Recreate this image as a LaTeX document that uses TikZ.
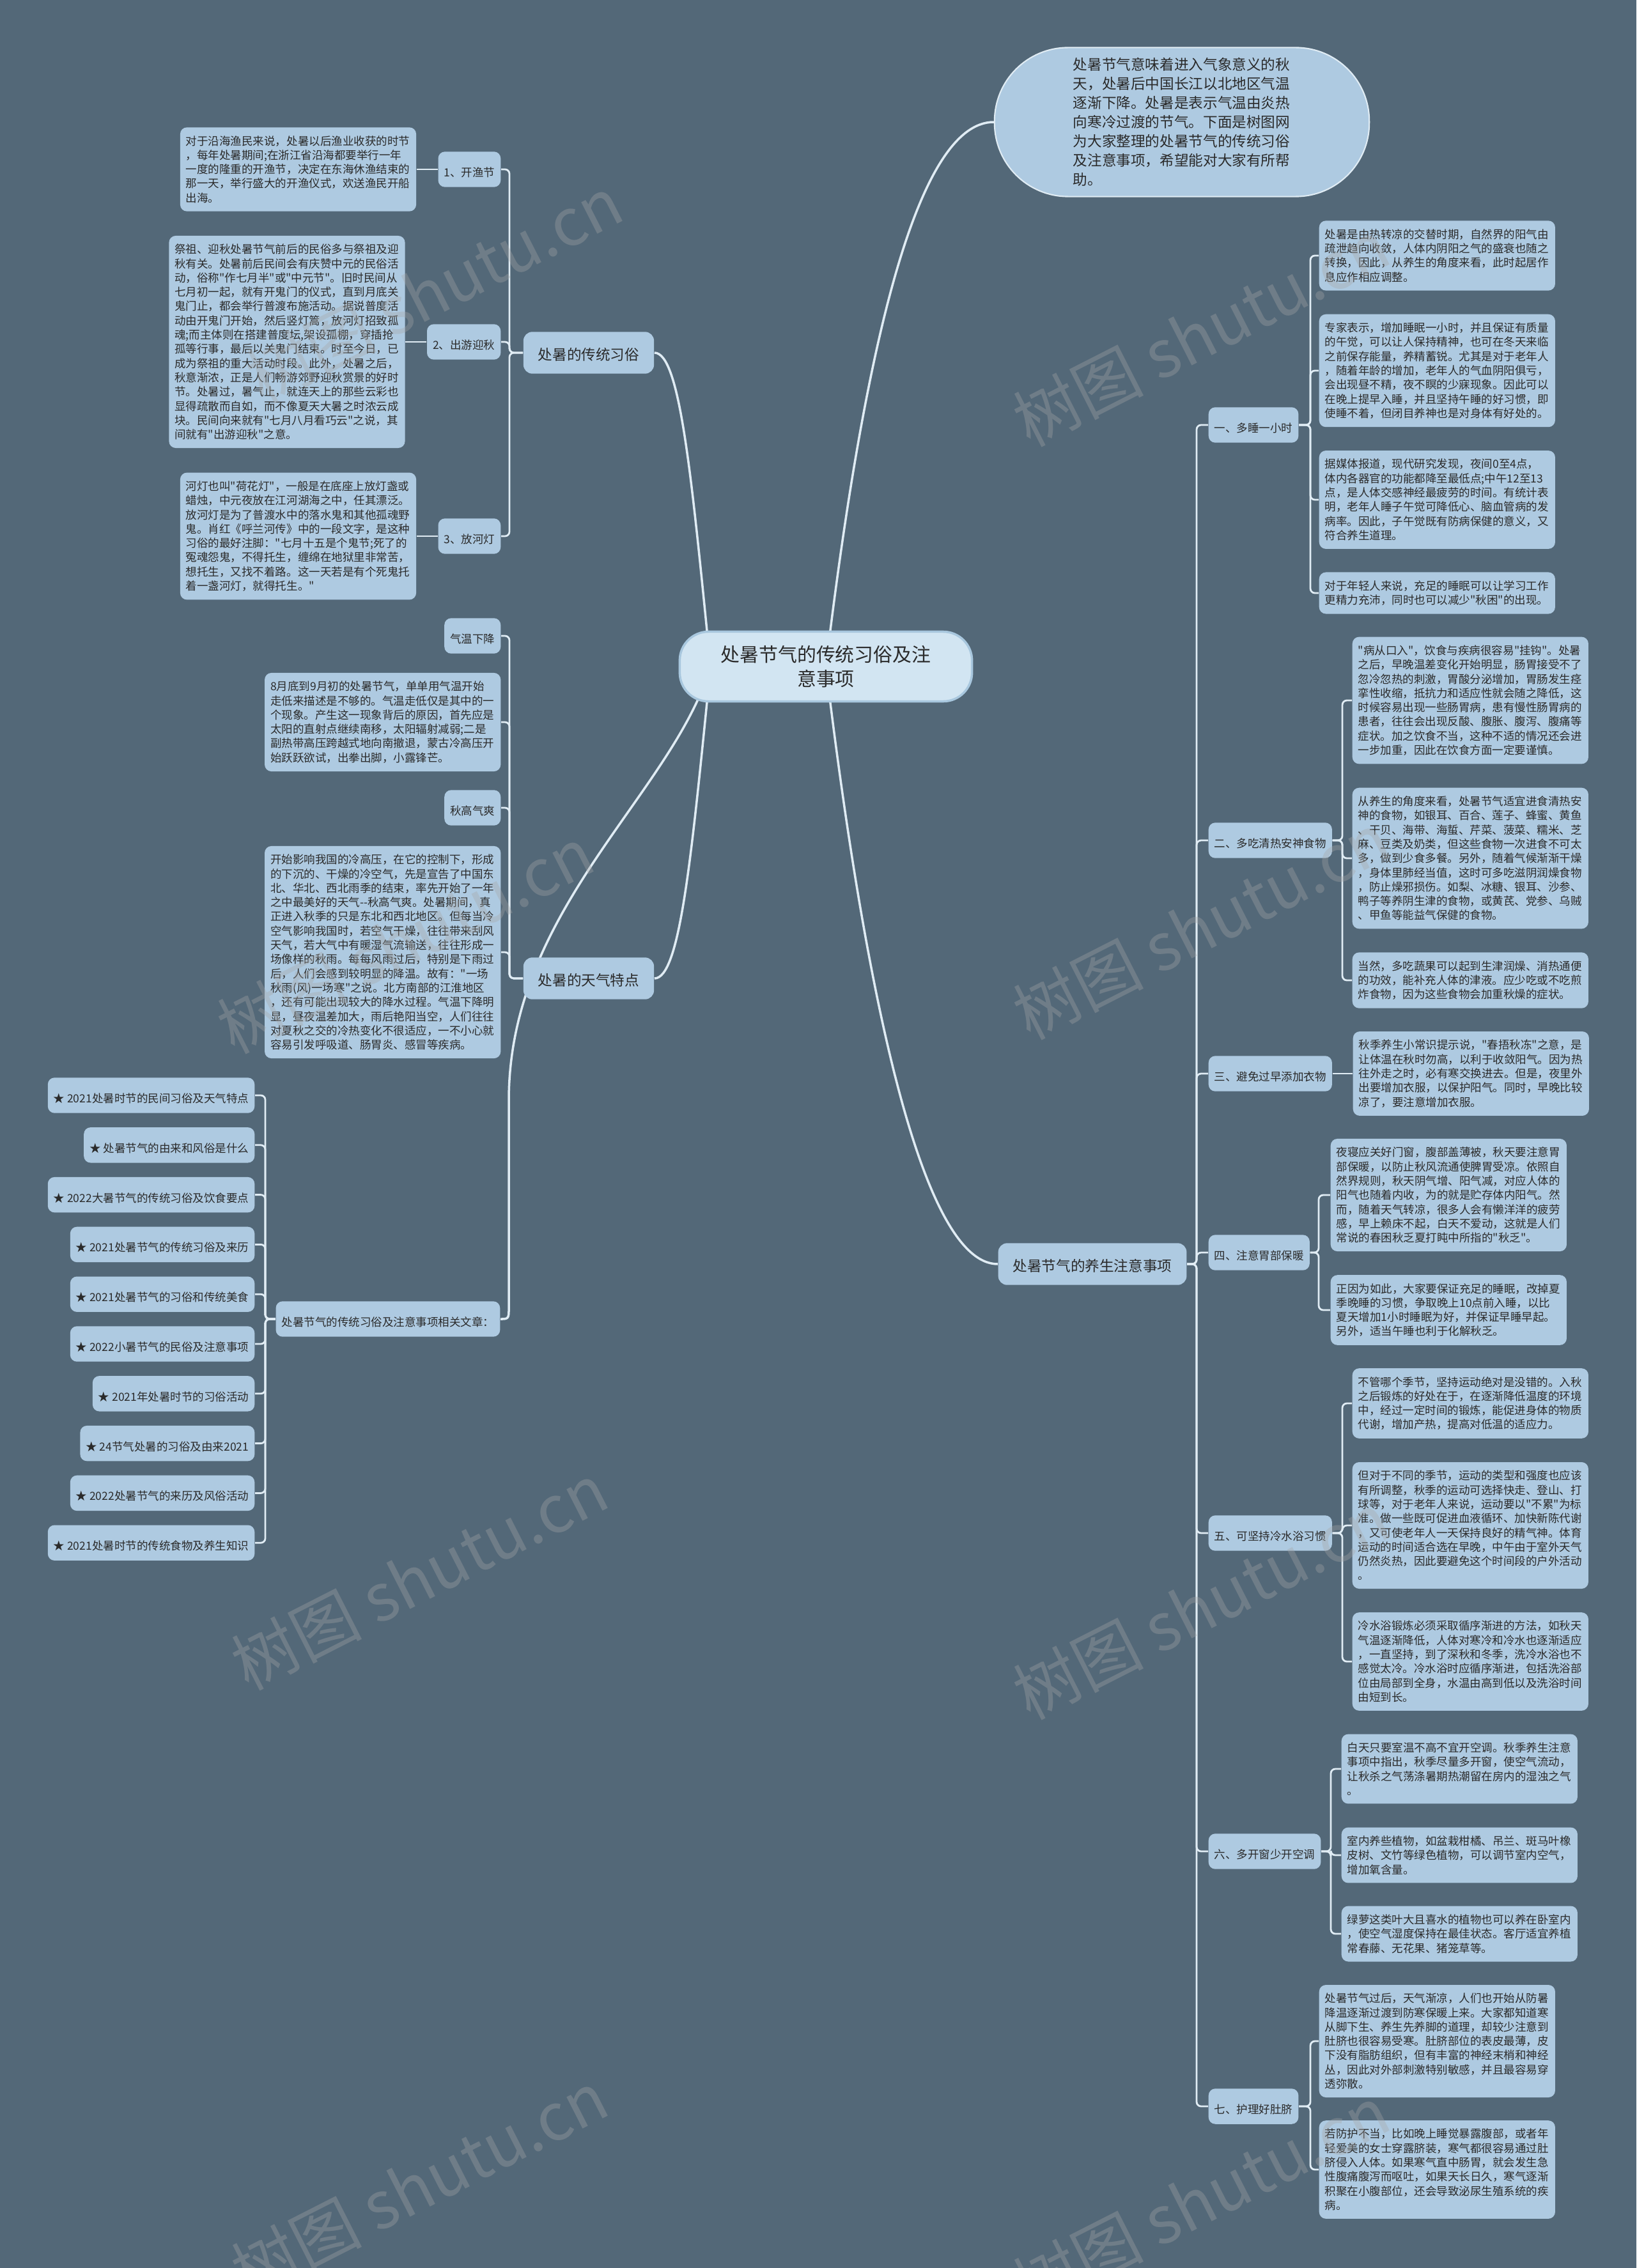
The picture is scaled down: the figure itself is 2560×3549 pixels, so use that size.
\documentclass[tikz,border=0pt]{standalone}
\usepackage{fontspec}
\newfontfamily\cjk{Noto Sans CJK SC}
\usetikzlibrary{positioning,calc}
\definecolor{slate}{HTML}{536878}
\definecolor{boxblue}{HTML}{AECAE1}
\definecolor{rootblue}{HTML}{D2E5F2}
\definecolor{rootedge}{HTML}{A8C7DE}
\definecolor{wire}{HTML}{E0ECF4}
\definecolor{ink}{HTML}{2A2A2A}
\pgfdeclarelayer{canvas}
\pgfdeclarelayer{wires}
\pgfsetlayers{canvas,wires,main}

\tikzset{
  leaf/.style={fill=boxblue, text=ink, rounded corners=3pt, inner xsep=0.09cm, inner ysep=0.11cm, font=\cjk\fontsize{4.98}{6.34}\selectfont},
  tag/.style={leaf, text height=0.8em, text depth=0.15em},
  note/.style={leaf, inner ysep=0.13cm, text width=3.51cm, align=left},
  topic/.style={fill=boxblue, text=ink, rounded corners=4pt, inner xsep=0.23cm, inner ysep=0.16cm, text height=0.8em, text depth=0.15em, font=\cjk\fontsize{6.43}{8}\selectfont},
  link/.style={draw=wire, line width=0.8pt},
  bracket/.style={link, rounded corners=2pt},
  trunk/.style={draw=wire, line width=1pt},
  stamp/.style={text=gray!70, opacity=0.35, rotate=27, font=\cjk\fontsize{29}{30}\selectfont},
}

\begin{document}
\begin{tikzpicture}[x=0.01cm, y=-0.01cm]
  \useasboundingbox (0,0) rectangle (2560,3549);
  \begin{pgfonlayer}{canvas}
    \fill[slate] (0,0) rectangle (2560,3549);
  \end{pgfonlayer}

  % centre and intro
  \node[fill=rootblue, draw=rootedge, line width=1pt, rounded corners=0.45cm, minimum width=4.57cm, minimum height=1.09cm, align=center, text=ink, font=\cjk\fontsize{8.5}{10.9}\selectfont] (root) at (1292,1043) {处暑节气的传统习俗及注\\意事项};
  \node[fill=boxblue, draw=wire, line width=0.6pt, rounded corners=1.15cm, minimum width=5.86cm, minimum height=2.33cm, text width=3.40cm, align=left, text=ink, font=\cjk\fontsize{6.43}{8.54}\selectfont] (intro) at (1849,191) {处暑节气意味着进入气象意义的秋\\天，处暑后中国长江以北地区气温\\逐渐下降。处暑是表示气温由炎热\\向寒冷过渡的节气。下面是树图网\\为大家整理的处暑节气的传统习俗\\及注意事项，希望能对大家有所帮\\助。};

  % customs
  \node[topic] (custom) at (921,552) {处暑的传统习俗};
  \node[tag, anchor=east] (kaiyu) at (784,265) {1、开渔节};
  \node[tag, anchor=east] (chuyou) at (784,535) {2、出游迎秋};
  \node[tag, anchor=east] (hedeng) at (784,839) {3、放河灯};
  \node[note, left=0.33cm of kaiyu] (kaiyuT) {对于沿海渔民来说，处暑以后渔业收获的时节\\，每年处暑期间;在浙江省沿海都要举行一年\\一度的隆重的开渔节，决定在东海休渔结束的\\那一天，举行盛大的开渔仪式，欢送渔民开船\\出海。};
  \node[note, left=0.33cm of chuyou] (chuyouT) {祭祖、迎秋处暑节气前后的民俗多与祭祖及迎\\秋有关。处暑前后民间会有庆赞中元的民俗活\\动，俗称"作七月半"或"中元节"。旧时民间从\\七月初一起，就有开鬼门的仪式，直到月底关\\鬼门止，都会举行普渡布施活动。据说普度活\\动由开鬼门开始，然后竖灯篙，放河灯招致孤\\魂;而主体则在搭建普度坛,架设孤棚，穿插抢\\孤等行事，最后以关鬼门结束。时至今日，已\\成为祭祖的重大活动时段。此外，处暑之后，\\秋意渐浓，正是人们畅游郊野迎秋赏景的好时\\节。处暑过，暑气止，就连天上的那些云彩也\\显得疏散而自如，而不像夏天大暑之时浓云成\\块。民间向来就有"七月八月看巧云"之说，其\\间就有"出游迎秋"之意。};
  \node[note, left=0.33cm of hedeng] (hedengT) {河灯也叫"荷花灯"，一般是在底座上放灯盏或\\蜡烛，中元夜放在江河湖海之中，任其漂泛。\\放河灯是为了普渡水中的落水鬼和其他孤魂野\\鬼。肖红《呼兰河传》中的一段文字，是这种\\习俗的最好注脚："七月十五是个鬼节;死了的\\冤魂怨鬼，不得托生，缠绵在地狱里非常苦，\\想托生，又找不着路。这一天若是有个死鬼托\\着一盏河灯，就得托生。"};

  % weather
  \node[topic] (weather) at (921,1531) {处暑的天气特点};
  \node[tag, anchor=east] (qiwen) at (784,995) {气温下降};
  \node[note, anchor=east] (qiwenT) at (784,1130) {8月底到9月初的处暑节气，单单用气温开始\\走低来描述是不够的。气温走低仅是其中的一\\个现象。产生这一现象背后的原因，首先应是\\太阳的直射点继续南移，太阳辐射减弱;二是\\副热带高压跨越式地向南撤退，蒙古冷高压开\\始跃跃欲试，出拳出脚，小露锋芒。};
  \node[tag, anchor=east] (qiugao) at (784,1264) {秋高气爽};
  \node[note, anchor=east] (qiugaoT) at (784,1490) {开始影响我国的冷高压，在它的控制下，形成\\的下沉的、干燥的冷空气，先是宣告了中国东\\北、华北、西北雨季的结束，率先开始了一年\\之中最美好的天气--秋高气爽。处暑期间，真\\正进入秋季的只是东北和西北地区。但每当冷\\空气影响我国时，若空气干燥，往往带来刮风\\天气，若大气中有暖湿气流输送，往往形成一\\场像样的秋雨。每每风雨过后，特别是下雨过\\后，人们会感到较明显的降温。故有："一场\\秋雨(风)一场寒"之说。北方南部的江淮地区\\，还有可能出现较大的降水过程。气温下降明\\显，昼夜温差加大，雨后艳阳当空，人们往往\\对夏秋之交的冷热变化不很适应，一不小心就\\容易引发呼吸道、肠胃炎、感冒等疾病。};

  % related articles
  \node[tag, anchor=east] (related) at (783,2064) {处暑节气的传统习俗及注意事项相关文章：};
  \foreach \txt [count=\i] in {★ 2021处暑时节的民间习俗及天气特点, ★ 处暑节气的由来和风俗是什么, ★ 2022大暑节气的传统习俗及饮食要点, ★ 2021处暑节气的传统习俗及来历, ★ 2021处暑节气的习俗和传统美食, ★ 2022小暑节气的民俗及注意事项, ★ 2021年处暑时节的习俗活动, ★ 24节气处暑的习俗及由来2021, ★ 2022处暑节气的来历及风俗活动, ★ 2021处暑时节的传统食物及养生知识}
    \node[tag, anchor=east] (art\i) at (399,{1714+77.8*(\i-1)}) {\txt};

  % health
  \node[topic] (health) at (1709,1978) {处暑节气的养生注意事项};
  \node[tag, anchor=west] (tip1) at (1890,665) {一、多睡一小时};
  \node[tag, anchor=west] (tip2) at (1890,1315) {二、多吃清热安神食物};
  \node[tag, anchor=west] (tip3) at (1890,1680) {三、避免过早添加衣物};
  \node[tag, anchor=west] (tip4) at (1890,1960) {四、注意胃部保暖};
  \node[tag, anchor=west] (tip5) at (1890,2399) {五、可坚持冷水浴习惯};
  \node[tag, anchor=west] (tip6) at (1890,2897) {六、多开窗少开空调};
  \node[tag, anchor=west] (tip7) at (1890,3296) {七、护理好肚脐};

  \node[note, anchor=west] (sleepA) at (2063,400) {处暑是由热转凉的交替时期，自然界的阳气由\\疏泄趋向收敛，人体内阴阳之气的盛衰也随之\\转换，因此，从养生的角度来看，此时起居作\\息应作相应调整。};
  \node[note, anchor=west] (sleepB) at (2063,580) {专家表示，增加睡眠一小时，并且保证有质量\\的午觉，可以让人保持精神，也可在冬天来临\\之前保存能量，养精蓄锐。尤其是对于老年人\\，随着年龄的增加，老年人的气血阴阳俱亏，\\会出现昼不精，夜不瞑的少寐现象。因此可以\\在晚上提早入睡，并且坚持午睡的好习惯，即\\使睡不着，但闭目养神也是对身体有好处的。};
  \node[note, anchor=west] (sleepC) at (2063,782) {据媒体报道，现代研究发现，夜间0至4点，\\体内各器官的功能都降至最低点;中午12至13\\点，是人体交感神经最疲劳的时间。有统计表\\明，老年人睡子午觉可降低心、脑血管病的发\\病率。因此，子午觉既有防病保健的意义，又\\符合养生道理。};
  \node[note, anchor=west] (sleepD) at (2063,928) {对于年轻人来说，充足的睡眠可以让学习工作\\更精力充沛，同时也可以减少"秋困"的出现。};

  \node[note, anchor=west] (foodA) at (2115,1096) {"病从口入"，饮食与疾病很容易"挂钩"。处暑\\之后，早晚温差变化开始明显，肠胃接受不了\\忽冷忽热的刺激，胃酸分泌增加，胃肠发生痉\\挛性收缩，抵抗力和适应性就会随之降低，这\\时候容易出现一些肠胃病，患有慢性肠胃病的\\患者，往往会出现反酸、腹胀、腹泻、腹痛等\\症状。加之饮食不当，这种不适的情况还会进\\一步加重，因此在饮食方面一定要谨慎。};
  \node[note, anchor=west] (foodB) at (2115,1343) {从养生的角度来看，处暑节气适宜进食清热安\\神的食物，如银耳、百合、莲子、蜂蜜、黄鱼\\、干贝、海带、海蜇、芹菜、菠菜、糯米、芝\\麻、豆类及奶类，但这些食物一次进食不可太\\多，做到少食多餐。另外，随着气候渐渐干燥\\，身体里肺经当值，这时可多吃滋阴润燥食物\\，防止燥邪损伤。如梨、冰糖、银耳、沙参、\\鸭子等养阴生津的食物，或黄芪、党参、乌贼\\、甲鱼等能益气保健的食物。};
  \node[note, anchor=west] (foodC) at (2115,1534) {当然，多吃蔬果可以起到生津润燥、消热通便\\的功效，能补充人体的津液。应少吃或不吃煎\\炸食物，因为这些食物会加重秋燥的症状。};

  \node[note, anchor=west] (clothA) at (2116,1680) {秋季养生小常识提示说，"春捂秋冻"之意，是\\让体温在秋时勿高，以利于收敛阳气。因为热\\往外走之时，必有寒交换进去。但是，夜里外\\出要增加衣服，以保护阳气。同时，早晚比较\\凉了，要注意增加衣服。};

  \node[note, anchor=west] (warmA) at (2081,1870) {夜寝应关好门窗，腹部盖薄被，秋天要注意胃\\部保暖，以防止秋风流通使脾胃受凉。依照自\\然界规则，秋天阴气增、阳气减，对应人体的\\阳气也随着内收，为的就是贮存体内阳气。然\\而，随着天气转凉，很多人会有懒洋洋的疲劳\\感，早上赖床不起，白天不爱动，这就是人们\\常说的春困秋乏夏打盹中所指的"秋乏"。};
  \node[note, anchor=west] (warmB) at (2081,2050) {正因为如此，大家要保证充足的睡眠，改掉夏\\季晚睡的习惯，争取晚上10点前入睡，以比\\夏天增加1小时睡眠为好，并保证早睡早起。\\另外，适当午睡也利于化解秋乏。};

  \node[note, anchor=west] (bathA) at (2115,2196) {不管哪个季节，坚持运动绝对是没错的。入秋\\之后锻炼的好处在于，在逐渐降低温度的环境\\中，经过一定时间的锻炼，能促进身体的物质\\代谢，增加产热，提高对低温的适应力。};
  \node[note, anchor=west] (bathB) at (2115,2387) {但对于不同的季节，运动的类型和强度也应该\\有所调整，秋季的运动可选择快走、登山、打\\球等，对于老年人来说，运动要以"不累"为标\\准。做一些既可促进血液循环、加快新陈代谢\\，又可使老年人一天保持良好的精气神。体育\\运动的时间适合选在早晚，中午由于室外天气\\仍然炎热，因此要避免这个时间段的户外活动\\。};
  \node[note, anchor=west] (bathC) at (2115,2600) {冷水浴锻炼必须采取循序渐进的方法，如秋天\\气温逐渐降低，人体对寒冷和冷水也逐渐适应\\，一直坚持，到了深秋和冬季，洗冷水浴也不\\感觉太冷。冷水浴时应循序渐进，包括洗浴部\\位由局部到全身，水温由高到低以及洗浴时间\\由短到长。};

  \node[note, anchor=west] (airA) at (2098,2768) {白天只要室温不高不宜开空调。秋季养生注意\\事项中指出，秋季尽量多开窗，使空气流动，\\让秋杀之气荡涤暑期热潮留在房内的湿浊之气\\。};
  \node[note, anchor=west] (airB) at (2098,2903) {室内养些植物，如盆栽柑橘、吊兰、斑马叶橡\\皮树、文竹等绿色植物，可以调节室内空气，\\增加氧含量。};
  \node[note, anchor=west] (airC) at (2098,3026) {绿萝这类叶大且喜水的植物也可以养在卧室内\\，使空气湿度保持在最佳状态。客厅适宜养植\\常春藤、无花果、猪笼草等。};

  \node[note, anchor=west] (navelA) at (2063,3194) {处暑节气过后，天气渐凉，人们也开始从防暑\\降温逐渐过渡到防寒保暖上来。大家都知道寒\\从脚下生、养生先养脚的道理，却较少注意到\\肚脐也很容易受寒。肚脐部位的表皮最薄，皮\\下没有脂肪组织，但有丰富的神经末梢和神经\\丛，因此对外部刺激特别敏感，并且最容易穿\\透弥散。};
  \node[note, anchor=west] (navelB) at (2063,3395) {若防护不当，比如晚上睡觉暴露腹部，或者年\\轻爱美的女士穿露脐装，寒气都很容易通过肚\\脐侵入人体。如果寒气直中肠胃，就会发生急\\性腹痛腹泻而呕吐，如果天长日久，寒气逐渐\\积聚在小腹部位，还会导致泌尿生殖系统的疾\\病。};

  % connectors
  \begin{pgfonlayer}{wires}
    \draw[trunk] (root.center) .. controls +(60,-500) and +(-120,0) .. (intro.west);
    \draw[trunk] (root.center) .. controls +(60,500) and +(-120,0) .. (health.west);
    \draw[trunk] ($(root.west)+(50,0)$) .. controls +(-30,-300) and +(40,0) .. (custom.east);
    \draw[trunk] ($(root.west)+(50,0)$) .. controls +(-30,300) and +(40,0) .. (weather.east);
    \draw[trunk] (related.east) .. controls +(10,0) and +(0,12) .. ++(13,-12) -- ++(0,-330) .. controls +(0,-300) and +(-60,200) .. ($(root.west)+(50,0)$);

    \foreach \n in {kaiyu,chuyou,hedeng}
      \draw[bracket] (\n.east) -- ++(13,0) |- (custom.west);
    \draw[link] (kaiyuT.east) -- (kaiyu.west);
    \draw[link] (chuyouT.east) -- (chuyou.west);
    \draw[link] (hedengT.east) -- (hedeng.west);
    \foreach \n in {qiwen,qiwenT,qiugao,qiugaoT}
      \draw[bracket] (\n.east) -- ++(13,0) |- (weather.west);
    \foreach \i in {1,...,10}
      \draw[bracket] (art\i.east) -- ++(16,0) |- (related.west);

    \foreach \i in {1,...,7}
      \draw[bracket] (tip\i.west) -- ++(-18,0) |- (health.east);
    \foreach \n in {sleepA,sleepB,sleepC,sleepD}
      \draw[bracket] (\n.west) -- ++(-13,0) |- (tip1.east);
    \foreach \n in {foodA,foodB,foodC}
      \draw[bracket] (\n.west) -- ++(-15,0) |- (tip2.east);
    \draw[link] (tip3.east) -- (clothA.west);
    \foreach \n in {warmA,warmB}
      \draw[bracket] (\n.west) -- ++(-18,0) |- (tip4.east);
    \foreach \n in {bathA,bathB,bathC}
      \draw[bracket] (\n.west) -- ++(-15,0) |- (tip5.east);
    \foreach \n in {airA,airB,airC}
      \draw[bracket] (\n.west) -- ++(-16,0) |- (tip6.east);
    \foreach \n in {navelA,navelB}
      \draw[bracket] (\n.west) -- ++(-13,0) |- (tip7.east);
  \end{pgfonlayer}

  % watermarks
  \foreach \p [count=\k] in {(679,453),(1879,521),(634,1471),(1879,1449),(656,2467),(1879,2513),(656,3418),(1879,3441)}
    \node[stamp] (wm\k) at \p {树图 shutu.cn};
\end{tikzpicture}
\end{document}
